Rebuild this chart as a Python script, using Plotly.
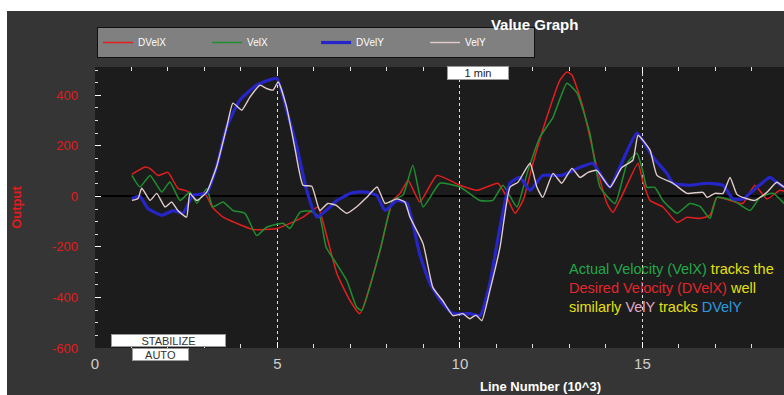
import plotly.graph_objects as go

# ---- data (x in thousands of lines, y = output) ----
DVELX = [(1.01,87),(1.37,116),(1.51,110),(1.73,83),(2.00,95),(2.27,32),(2.52,21),(2.68,4),(3.01,13),(3.21,-42),
         (3.51,-82),(3.89,-107),(4.33,-131),(4.99,-127),(5.34,-107),(5.70,-82),(6.11,-42),(6.25,-102),(6.63,-306),
         (6.99,-413),(7.26,-464),(7.81,-214),(8.16,-16),(8.36,12),(8.58,63),(8.90,-22),(9.37,83),(10.00,44),
         (10.47,24),(11.04,52),(11.29,-5),(11.51,-67),(11.73,-16),(12.00,130),(12.38,313),(12.74,460),(12.93,492),
         (13.07,480),(13.37,353),(13.75,115),(14.03,-28),(14.19,-63),(14.47,12),(14.88,131),(15.01,60),(15.21,-16),
         (15.56,-42),(15.95,-103),(16.22,-83),(16.58,-87),(16.85,-75),(17.04,-4),(17.40,-16),(17.75,-28),(18.08,44),
         (18.41,-10),(18.77,24),(18.88,20)]

VELX = [(1.01,83),(1.23,37),(1.51,83),(1.83,17),(2.05,57),(2.33,-16),(2.60,17),(2.79,-27),(3.06,30),(3.23,-42),
        (3.51,-22),(3.78,-56),(4.11,-67),(4.43,-155),(4.70,-122),(5.15,-106),(5.34,-127),(5.62,-62),(5.89,-58),
        (6.16,-82),(6.33,-200),(6.62,-267),(6.90,-333),(7.17,-439),(7.31,-452),(7.81,-214),(8.16,-16),(8.44,5),
        (8.71,123),(8.99,-42),(9.45,52),(10.00,37),(10.55,-16),(10.90,-16),(11.18,44),(11.56,-42),(11.84,91),
        (12.19,234),(12.55,313),(12.93,448),(13.21,409),(13.56,250),(13.84,36),(14.25,-28),(14.58,131),(14.85,171),
        (15.01,100),(15.12,36),(15.34,36),(15.56,-16),(15.95,-67),(16.30,-28),(16.58,-40),(16.85,-87),(17.04,-4),
        (17.48,-16),(17.95,-56),(18.22,-4),(18.58,12),(18.88,-28)]

DVELY = [(1.01,-8),(1.23,0),(1.45,-48),(1.83,-75),(2.14,-56),(2.41,-67),(2.68,4),(3.06,12),(3.33,116),(3.61,275),
         (3.97,381),(4.43,440),(4.98,467),(5.25,341),(5.53,196),(5.80,24),(6.08,-82),(6.44,-42),(6.63,-16),(6.99,11),
         (7.18,17),(7.44,17),(7.72,4),(7.95,-56),(8.27,-16),(8.55,-28),(8.90,-230),(9.18,-345),(9.53,-425),(9.81,-464),
         (10.27,-464),(10.55,-472),(10.82,-345),(11.10,-120),(11.37,52),(11.64,75),(11.92,24),(12.27,83),(12.79,83),
         (13.29,115),(13.64,131),(13.92,71),(14.11,36),(14.38,115),(14.85,250),(15.29,155),(15.67,91),(15.84,52),
         (16.30,44),(16.77,52),(17.21,44),(17.48,-10),(17.75,-10),(18.14,36),(18.49,75),(18.68,56),(18.88,36)]

VELY = [(1.01,-16),(1.18,-8),(1.28,32),(1.51,-16),(1.69,12),(1.92,-42),(2.10,-22),(2.27,-56),(2.51,-82),(2.60,11),
        (2.79,-16),(3.06,17),(3.33,116),(3.61,275),(3.78,369),(4.02,341),(4.25,394),(4.52,440),(4.70,427),(4.88,421),
        (5.02,453),(5.25,354),(5.48,189),(5.70,44),(5.94,40),(6.16,-56),(6.38,-28),(6.60,-35),(6.90,-67),(7.18,-40),
        (7.45,-3),(7.73,37),(7.95,-28),(8.27,-10),(8.49,-22),(8.63,-82),(8.99,-187),(9.26,-361),(9.53,-413),(9.81,-472),
        (10.08,-464),(10.27,-484),(10.44,-470),(10.60,-492),(10.82,-373),(11.10,-200),(11.37,36),(11.59,56),(11.92,131),
        (12.11,36),(12.27,-4),(12.55,91),(12.79,52),(13.07,111),(13.29,75),(13.51,95),(13.75,103),(14.11,36),
        (14.44,115),(14.74,143),(14.88,242),(15.21,183),(15.40,83),(15.84,52),(16.22,12),(16.66,16),(16.77,-4),
        (16.99,12),(17.21,12),(17.40,75),(17.59,8),(17.75,-4),(18.08,-16),(18.41,16),(18.68,56),(18.88,36)]

SERIES_NAMES = ["DVelX", "VelX", "DVelY", "VelY"]
X_TICKS = [0, 5, 10, 15]
X_TICK_TEXT = ["0", "5", "10", "15"]
Y_TICKS = [-600, -400, -200, 0, 200, 400]
Y_TICK_TEXT = ["-600", "-400", "-200", "0", "200", "400"]
X_RANGE = [0, 18.88]
Y_RANGE = [-600, 512]

FONT = "Arial, 'Liberation Sans', sans-serif"

styles = {
    "DVelX": dict(color="#e31e1e", width=1.5),
    "VelX": dict(color="#1f8f30", width=1.5),
    "DVelY": dict(color="#2626c8", width=3.2),
    "VelY": dict(color="#e2cccc", width=1.4),
}

fig = go.Figure()
for name, data in zip(SERIES_NAMES, [DVELX, VELX, DVELY, VELY]):
    xs = [p[0] for p in data]
    ys = [p[1] for p in data]
    fig.add_trace(go.Scatter(x=xs, y=ys, mode="lines", name=name,
                             line=dict(shape="spline", smoothing=0.45, **styles[name])))

fig.update_layout(
    width=784, height=395,
    margin=dict(l=95, r=0, t=67, b=47, autoexpand=False),
    paper_bgcolor="#353535",
    plot_bgcolor="#1c1c1c",
    font=dict(family=FONT, color="white"),
    title=dict(text="<b>Value Graph</b>", x=0.682, xanchor="center", xref="container",
               y=1 - 25 / 395, yanchor="middle", yref="container",
               font=dict(size=15, color="white", family=FONT)),
    showlegend=True,
    legend=dict(orientation="h", x=0.003, xanchor="left", y=1.032, yanchor="bottom",
                bgcolor="#808080", bordercolor="#111111", borderwidth=1,
                font=dict(size=10, color="white", family=FONT),
                entrywidth=64, entrywidthmode="pixels", itemwidth=30,
                tracegroupgap=0),
    xaxis=dict(range=X_RANGE, tickmode="array", tickvals=X_TICKS, ticktext=X_TICK_TEXT,
               automargin=False,
               showgrid=True, gridcolor="rgba(255,255,255,0.85)", griddash="dot", gridwidth=1,
               zeroline=False, showline=False,
               ticks="inside", ticklen=6, tickcolor="white", tickwidth=1, mirror="ticks",
               minor=dict(tickmode="linear", tick0=0, dtick=1, ticks="inside", ticklen=4,
                          tickcolor="#dddddd", showgrid=False),
               tickfont=dict(size=15, color="#cfcfcf", family=FONT),
               ticklabelstandoff=5),
    yaxis=dict(range=Y_RANGE, tickmode="array", tickvals=Y_TICKS, ticktext=Y_TICK_TEXT,
               automargin=False,
               showgrid=False, zeroline=True, zerolinecolor="#000000", zerolinewidth=1.5,
               showline=False,
               ticks="inside", ticklen=6, tickcolor="white", tickwidth=1,
               minor=dict(tickmode="linear", tick0=0, dtick=50, ticks="inside", ticklen=3,
                          tickcolor="#dddddd", showgrid=False),
               tickfont=dict(size=13, color="#e01c1c", family=FONT),
               ticklabelstandoff=16,
               title=dict(text="<b>Output</b>", font=dict(size=13, color="#e01c1c", family=FONT),
                          standoff=27)),
)

# white strips at top and left of the image
fig.add_shape(type="rect", xref="paper", yref="paper", x0=-0.3, x1=1.1, y0=(348 - 11) / 281, y1=1.4,
              fillcolor="white", line=dict(width=0), layer="below")
fig.add_shape(type="rect", xref="paper", yref="paper", x0=-0.3, x1=(7 - 95) / 689, y0=-0.3, y1=1.4,
              fillcolor="white", line=dict(width=0), layer="below")

# x-axis title
fig.add_annotation(text="<b>Line Number (10^3)</b>", xref="paper", yref="paper",
                   x=(540 - 95) / 689, y=(348 - 386) / 281, xanchor="center", yanchor="middle",
                   showarrow=False, font=dict(size=13, color="white", family=FONT))

# "1 min" box
fig.add_annotation(text="1 min", xref="paper", yref="paper", x=(478 - 95) / 689, y=(348 - 73) / 281,
                   xanchor="center", yanchor="middle", showarrow=False, bgcolor="white",
                   width=60, height=12, borderpad=0, bordercolor="#999999", borderwidth=1,
                   font=dict(size=11, color="#222222", family=FONT))

# mode boxes
fig.add_annotation(text="STABILIZE", xref="paper", yref="paper", x=(168 - 95) / 689, y=(348 - 340) / 281,
                   xanchor="center", yanchor="middle", showarrow=False, bgcolor="white",
                   width=113, height=11, borderpad=0, bordercolor="#999999", borderwidth=1,
                   font=dict(size=11, color="#333333", family=FONT))
fig.add_annotation(text="AUTO", xref="paper", yref="paper", x=(160 - 95) / 689, y=(348 - 354) / 281,
                   xanchor="center", yanchor="middle", showarrow=False, bgcolor="white",
                   width=55, height=11, borderpad=0, bordercolor="#999999", borderwidth=1,
                   font=dict(size=11, color="#333333", family=FONT))

# explanatory note
G, Y, R, P, B = "#22a84a", "#e6e010", "#e3262c", "#e0a8c8", "#2a9be0"
note = (f"<span style='color:{G}'>Actual Velocity (VelX)</span> <span style='color:{Y}'>tracks the</span><br>"
        f"<span style='color:{R}'>Desired Velocity (DVelX)</span> <span style='color:{Y}'>well</span><br>"
        f"<span style='color:{Y}'>similarly</span> <span style='color:{P}'>VelY</span> "
        f"<span style='color:{Y}'>tracks</span> <span style='color:{B}'>DVelY</span>")
fig.add_annotation(text=note, xref="paper", yref="paper", x=(567 - 95) / 689, y=(348 - 288) / 281,
                   xanchor="left", yanchor="middle", align="left", showarrow=False,
                   font=dict(size=14.5, family=FONT))

fig.write_html("out.html", config={"displayModeBar": False},
               post_script="document.body.style.margin='0';document.body.style.overflow='hidden';")
